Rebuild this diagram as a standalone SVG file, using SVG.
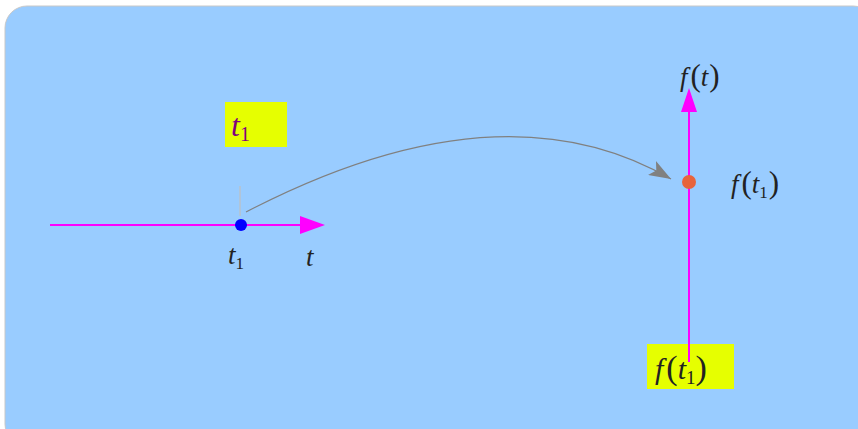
<svg xmlns="http://www.w3.org/2000/svg" width="858" height="429" viewBox="0 0 858 429">
<style>
.ax{stroke:#ff00ff;stroke-width:2;fill:none}
.ah{fill:#ff00ff}
.lbl{font-family:"Liberation Serif","DejaVu Serif",serif;font-style:italic;font-size:27px;fill:#222}
.sub{font-style:normal;font-size:17px}
.par{font-style:normal;font-weight:normal;font-size:31px}
.box{fill:#e6ff00}
</style>
<defs>
<marker id="garr" markerWidth="24" markerHeight="16" refX="22" refY="8" orient="auto" markerUnits="userSpaceOnUse">
<path d="M0,0 L22,8 L0,16 L5,8 Z" fill="#808080"/>
</marker>
</defs>
<rect x="5" y="6" width="870" height="440" rx="22" fill="#99ccff" stroke="#c8c8c8" stroke-width="1"/>
<g id="connectors">
<path d="M246,212 Q500,80 671,179" fill="none" stroke="#808080" stroke-width="1.2" marker-end="url(#garr)"/>
</g>
<g id="t1-box">
<rect class="box" x="225" y="102" width="62" height="45"/>
<text class="lbl" x="231" y="136" style="fill:#800080;font-size:32px">t<tspan class="sub" dy="5" style="fill:#800080;font-size:20px">1</tspan></text>
</g>
<g id="ft1-box">
<rect class="box" x="647" y="344" width="87" height="45"/>
<text class="lbl" x="655" y="379" style="font-size:30px">f<tspan class="par" dx="3" style="font-size:34px">(</tspan>t<tspan class="sub" dy="5" style="font-size:19px">1</tspan><tspan class="par" dy="-5" style="font-size:34px">)</tspan></text>
</g>
<g id="t-axis">
<line class="ax" x1="50" y1="225" x2="302" y2="225"/>
<path class="ah" d="M300,216 L325,225 L300,234 Z"/>
<text class="lbl" x="306" y="266">t</text>
</g>
<g id="f-axis">
<line class="ax" x1="689" y1="110" x2="689" y2="362"/>
<path class="ah" d="M681,112 L689,88 L697,112 Z"/>
<text class="lbl" x="680" y="86">f<tspan class="par" dx="3">(</tspan>t<tspan class="par" dx="1">)</tspan></text>
</g>
<g id="t1-point">
<line x1="240" y1="186" x2="240" y2="216" stroke="#c0c0c0" stroke-width="1.2"/>
<circle cx="241" cy="225" r="6" fill="#0000ff"/>
<text class="lbl" x="228" y="264">t<tspan class="sub" dy="5">1</tspan></text>
</g>
<g id="ft1-point">
<circle cx="689" cy="182" r="7" fill="#e8643c"/>
<text class="lbl" x="731" y="193">f<tspan class="par" dx="3">(</tspan>t<tspan class="sub" dy="5">1</tspan><tspan class="par" dy="-5" dx="1">)</tspan></text>
</g>
</svg>
